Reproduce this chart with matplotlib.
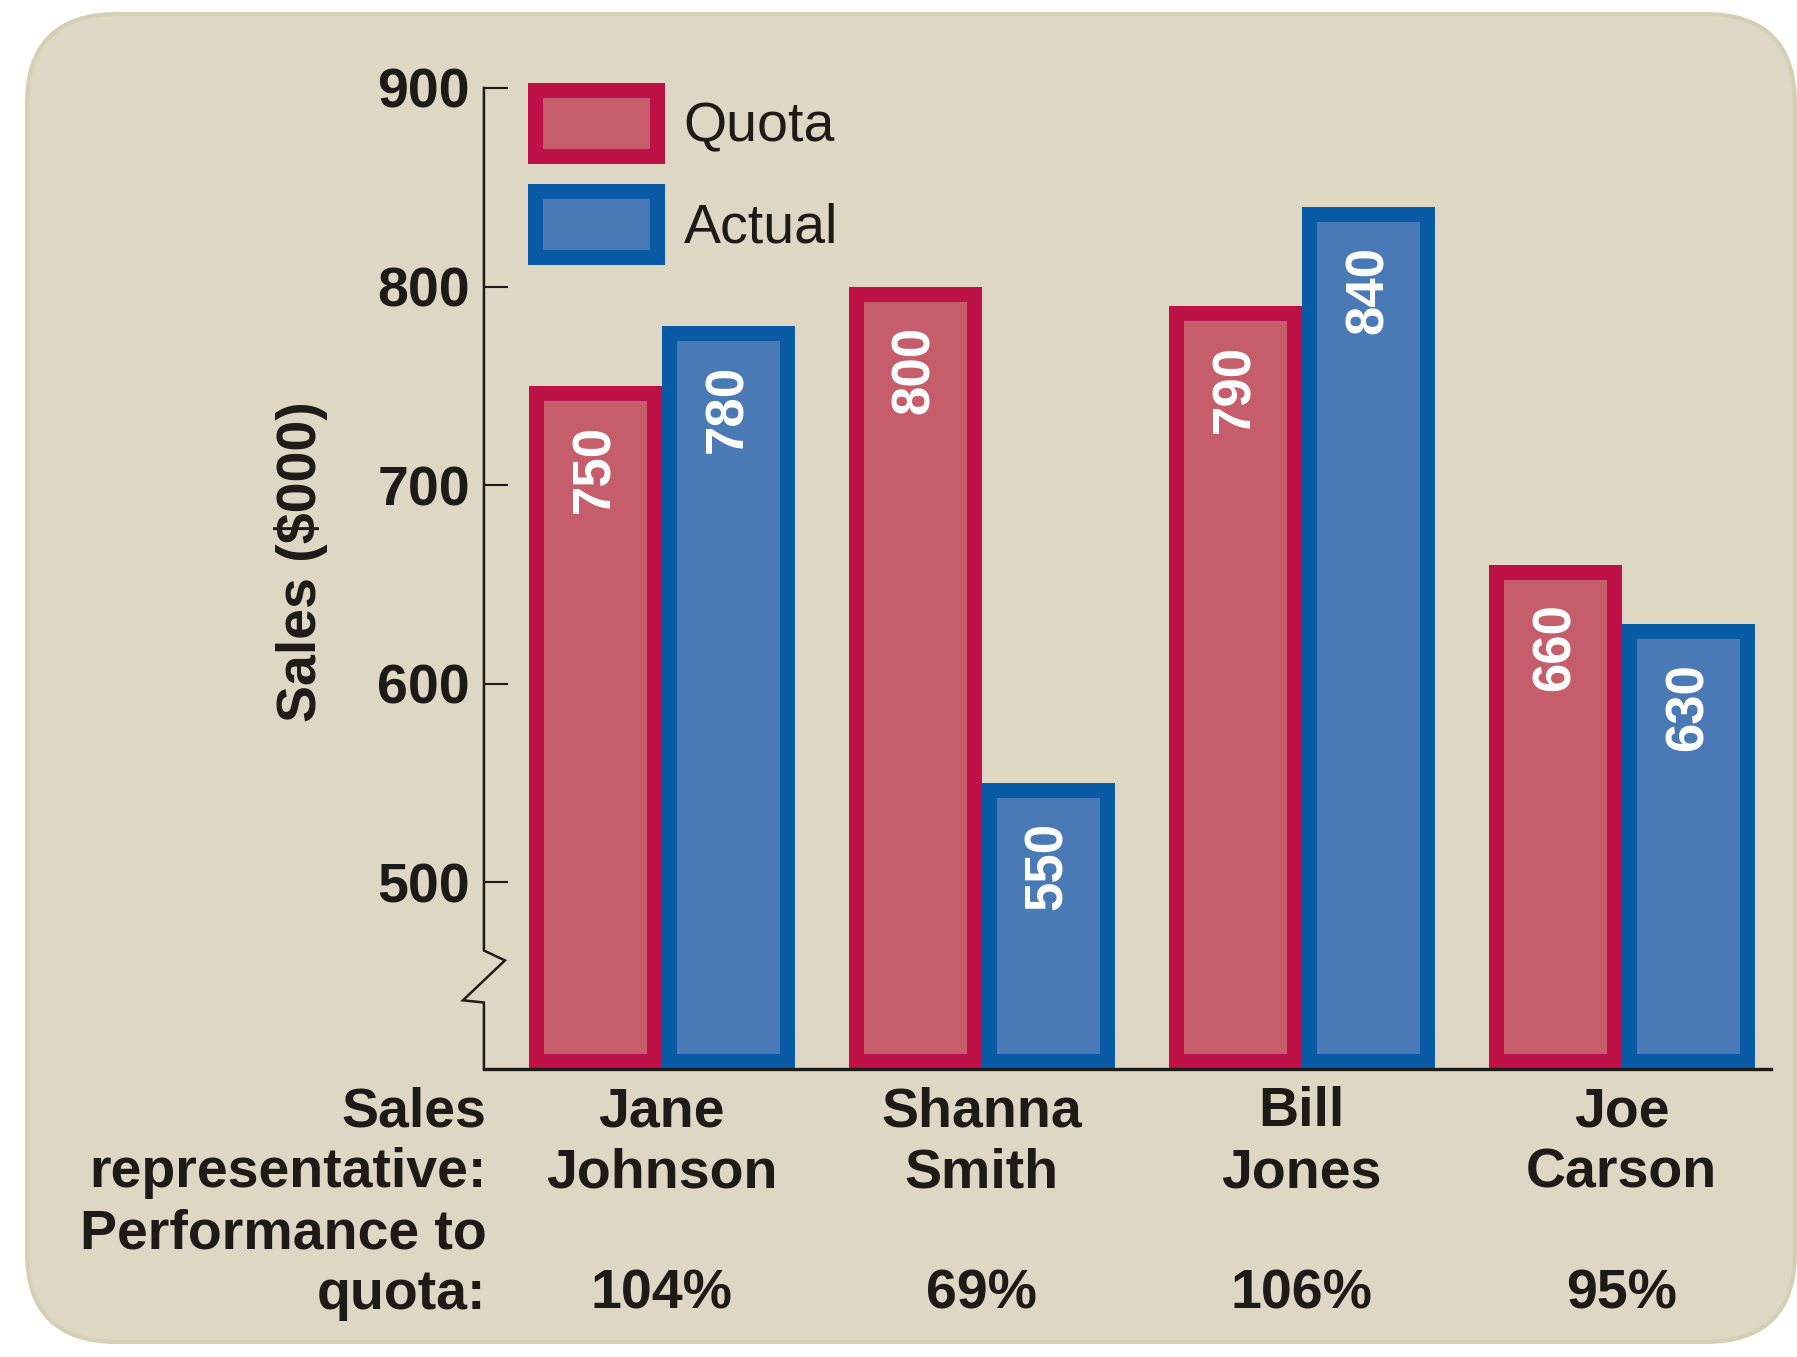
import matplotlib.pyplot as plt
from matplotlib.patches import FancyBboxPatch, Patch
from matplotlib.transforms import IdentityTransform

# Sales data ($000)
reps = ["Jane\nJohnson", "Shanna\nSmith", "Bill\nJones", "Joe\nCarson"]
quota = [750, 800, 790, 660]
actual = [780, 550, 840, 630]
yticks = [500, 600, 700, 800, 900]

quota_fill, quota_edge = "#C65D6B", "#BD1148"
actual_fill, actual_edge = "#4A7AB5", "#0A5BA5"
bg = "#DED7C4"
ink = "#1E1A17"

plt.rcParams["font.family"] = ["Liberation Sans", "DejaVu Sans"]

fig = plt.figure(figsize=(17.97, 13.57), dpi=100, facecolor="white")

# rounded beige panel behind everything (pixel coordinates)
panel = FancyBboxPatch((27, 15), 1768, 1328,
                       boxstyle="round,pad=0,rounding_size=90",
                       transform=IdentityTransform(),
                       facecolor=bg, edgecolor="#D4D0B4", linewidth=3, zorder=-10)
fig.patches.append(panel)

ax = fig.add_axes([0.2693, 0.2122, 0.7162, 0.7230])
ax.patch.set_visible(False)

ymin = 406
x = list(range(len(reps)))
w = 0.416
border = 15 * 72 / 100 * 2  # doubled, half is clipped away

def draw_bars(offset, vals, fill, edge):
    bars = ax.bar([i + offset for i in x], [v - ymin for v in vals], bottom=ymin,
                  width=w, facecolor=fill, edgecolor=edge, linewidth=border,
                  zorder=2)
    for p in bars:
        p.set_clip_path(p)
        p.set_joinstyle("miter")
    for i, v in zip(x, vals):
        ax.annotate(str(v), (i + offset, v), xytext=(0, -28),
                    textcoords="offset points", rotation=90, ha="center",
                    va="top", color="white", fontsize=38, fontweight="bold",
                    zorder=3)

draw_bars(-w / 2, quota, quota_fill, quota_edge)
draw_bars(w / 2, actual, actual_fill, actual_edge)

ax.set_xlim(-0.556, 3.466)
ax.set_ylim(ymin, 900)

# spines: bottom only, left drawn by hand with a break mark
for s in ["top", "right", "left"]:
    ax.spines[s].set_visible(False)
ax.spines["bottom"].set_linewidth(2.4)
ax.spines["bottom"].set_color(ink)
ax.spines["bottom"].set_zorder(4)

bx = [0, 0, 0.0163, -0.0163, 0, 0]
by = [900, 465.7, 460.7, 440.6, 439.5, ymin]
ax.plot(bx, by, transform=ax.get_yaxis_transform(), color=ink, lw=1.8,
        clip_on=False, solid_joinstyle="miter")

ax.set_yticks(yticks)
ax.tick_params(axis="y", direction="in", length=17, width=1.5, color=ink,
               pad=10, labelsize=40, labelcolor=ink)
for t in ax.get_yticklabels():
    t.set_fontweight("bold")

perf = [f"{round(a / q * 100)}%" for a, q in zip(actual, quota)]
ax.set_xticks(x, labels=[f"{r}\n\n{p}" for r, p in zip(reps, perf)])
ax.tick_params(axis="x", length=0, pad=12.5, labelsize=40, labelcolor=ink)
for t in ax.get_xticklabels():
    t.set_fontweight("bold")
    t.set_linespacing(1.22)

ax.annotate("Sales\nrepresentative:\nPerformance to\nquota:", (0, 0),
            xycoords="axes fraction", xytext=(2, -12.5), textcoords="offset points",
            ha="right", va="top", multialignment="right", fontsize=40,
            fontweight="bold", color=ink, linespacing=1.22)

ax.set_ylabel("Sales ($000)", fontsize=40, fontweight="bold", color=ink,
              va="center")
ax.yaxis.set_label_coords(-0.142, 0.517)

handles = [Patch(facecolor=quota_fill, edgecolor=quota_edge, linewidth=10.8),
           Patch(facecolor=actual_fill, edgecolor=actual_edge, linewidth=10.8)]
leg = ax.legend(handles, ["Quota", "Actual"], loc="upper left",
                bbox_to_anchor=(0.2975, 0.934), bbox_transform=fig.transFigure,
                frameon=False, fontsize=40, borderpad=0, borderaxespad=0,
                handlelength=2.2, handleheight=1.47, handletextpad=0.48,
                labelspacing=0.62, labelcolor=ink)
for p in leg.get_patches():
    p.set_joinstyle("miter")

fig.savefig("out.png", dpi=100)
